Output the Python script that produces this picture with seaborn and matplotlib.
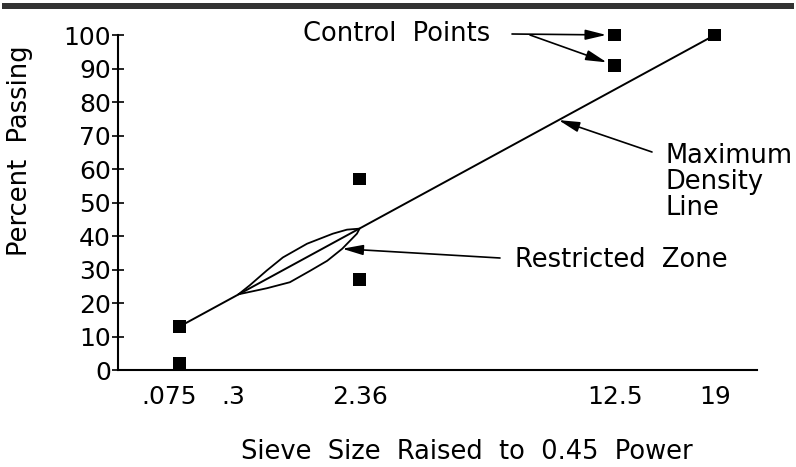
import numpy as np
import pandas as pd
import seaborn as sns
import matplotlib.pyplot as plt
from matplotlib.patches import Rectangle
from matplotlib.transforms import ScaledTranslation

POWER = 0.45

# sieve sizes (mm) shown on the x axis
sieve_ticks = [0.075, 0.3, 2.36, 12.5, 19]
sieve_labels = ['.075', '.3', '2.36', '12.5', '19']

# control points (sieve size, percent passing)
control_sizes = [0.075, 0.075, 2.36, 2.36, 12.5, 12.5, 19]
control_pct = [2, 13, 27, 57, 91, 100, 100]

# maximum density line
mdl_sizes = [0.075, 19]
mdl_pct = [13, 100]

# restricted zone, upper and lower boundaries
rz_upper_sizes = [0.44, 0.55, 0.74, 0.95, 1.32, 1.79, 2.08, 2.36]
rz_upper_pct = [22.6, 25.3, 29.7, 33.6, 37.7, 40.7, 41.9, 42.2]
rz_lower_sizes = [0.44, 0.74, 1.05, 1.37, 1.68, 1.98, 2.30, 2.36]
rz_lower_pct = [22.6, 24.4, 26.2, 29.6, 32.6, 36.2, 40.7, 42.2]


def pw(s):
    return np.asarray(s, dtype=float) ** POWER


sns.set_style("white")
plt.rcParams['font.family'] = ['DejaVu Sans']
plt.rcParams.update({'text.color': 'black', 'axes.labelcolor': 'black',
                     'xtick.color': 'black', 'ytick.color': 'black'})
FS = 18.5
TFS = 18

fig = plt.figure(figsize=(7.96, 4.67), dpi=100)
ax = fig.add_axes([0.1482, 0.2077, 0.8028, 0.7173])

sns.lineplot(x=pw(mdl_sizes), y=mdl_pct, ax=ax, color='black', lw=1.4)

zone = pd.DataFrame({
    'x': np.concatenate([pw(rz_upper_sizes), pw(rz_lower_sizes)[::-1]]),
    'y': rz_upper_pct + rz_lower_pct[::-1],
})
sns.lineplot(data=zone, x='x', y='y', sort=False, estimator=None, ax=ax,
             color='black', lw=1.3)

sns.scatterplot(x=pw(control_sizes), y=control_pct, ax=ax, marker='s', s=85,
                color='black', edgecolor='none', clip_on=False, zorder=5)

ax.set_xlim(-0.086, 4.034)
ax.set_ylim(0, 100)
ax.set_xticks(pw(sieve_ticks), sieve_labels)
ax.set_yticks(range(0, 101, 10))
ax.tick_params(axis='x', length=0, pad=11, labelsize=TFS)
ax.tick_params(axis='y', direction='inout', length=8, width=1.2, pad=1,
               labelsize=TFS, left=True)
for side in ['top', 'right']:
    ax.spines[side].set_visible(False)
for side in ['left', 'bottom']:
    ax.spines[side].set_linewidth(1.5)
    ax.spines[side].set_color('black')

# nudge the two crowded fine-sieve labels apart (pixels)
for lab, dx in zip(ax.get_xticklabels()[:2], [-11, 12]):
    lab.set_transform(lab.get_transform()
                      + ScaledTranslation(dx / 100, 0, fig.dpi_scale_trans))

ax.set_xlabel('Sieve  Size  Raised  to  0.45  Power', fontsize=FS)
ax.xaxis.set_label_coords(0.546, -0.205)
ax.set_ylabel('Percent  Passing', fontsize=FS)
ax.yaxis.set_label_coords(-0.133, 0.654)


def fxy(px, py):
    return (px / 796, 1 - py / 467)


arrow = dict(arrowstyle='-|>,head_length=0.9,head_width=0.22', color='black',
             lw=1.2, mutation_scale=14, shrinkA=0)

# control points
ax.text(*fxy(303, 34), 'Control  Points', transform=fig.transFigure,
        ha='left', va='center', fontsize=FS)
ax.annotate('', xy=(pw(12.5), control_pct[5]), xycoords='data',
            xytext=fxy(512, 34), textcoords='figure fraction',
            arrowprops=dict(arrow, shrinkB=6), annotation_clip=False)
ax.annotate('', xy=(pw(12.5), control_pct[4]), xycoords='data',
            xytext=fxy(530, 35), textcoords='figure fraction',
            arrowprops=dict(arrow, shrinkB=6), annotation_clip=False)

# maximum density line
tip_y = 74.6
tip_x = np.interp(tip_y, mdl_pct, pw(mdl_sizes))
ax.text(*fxy(665, 182), 'Maximum\nDensity\nLine', transform=fig.transFigure,
        ha='left', va='center', fontsize=FS, linespacing=1.0)
ax.annotate('', xy=(tip_x, tip_y), xycoords='data',
            xytext=fxy(652, 152), textcoords='figure fraction',
            arrowprops=dict(arrow, shrinkB=0))

# restricted zone
ax.text(*fxy(515, 260), 'Restricted  Zone', transform=fig.transFigure,
        ha='left', va='center', fontsize=FS)
ax.annotate('', xy=(pw(rz_lower_sizes[5]), rz_lower_pct[5]), xycoords='data',
            xytext=fxy(500, 258), textcoords='figure fraction',
            arrowprops=dict(arrow, shrinkB=0))

# heavy rule across the top
fig.add_artist(Rectangle((0.002, 1 - 9 / 467), 0.995, 6 / 467,
                         transform=fig.transFigure, color='#333333', lw=0))

fig.savefig('out.png', dpi=100)
